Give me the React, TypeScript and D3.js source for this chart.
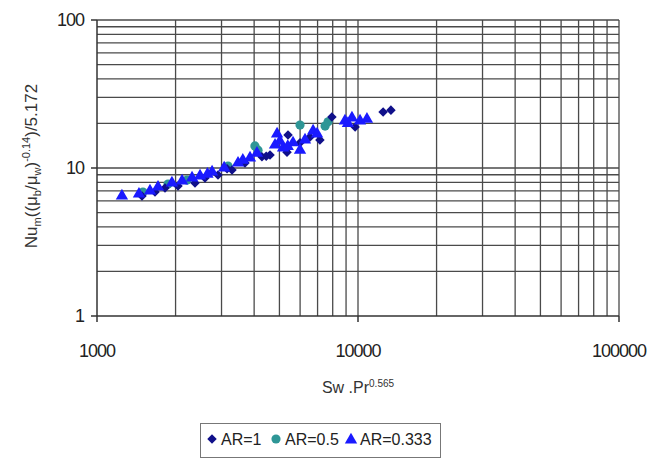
import React from 'react';
import * as d3 from 'd3';

// AR=1 (navy diamonds)
const ar1X = [1487, 1668, 1822, 2043, 2374, 2593, 2908, 3290, 3690, 4285, 4602, 5346, 5394, 5996, 7146, 7943, 9750, 12480, 13370, 3150, 4450, 6550];
const ar1Y = [6.47, 6.88, 7.32, 7.56, 7.92, 8.56, 8.97, 9.69, 10.8, 11.9, 12.24, 12.8, 16.7, 14.8, 15.46, 22.1, 18.9, 23.9, 24.6, 9.9, 12.0, 16.2];

// AR=0.5 (teal circles)
const ar05X = [1500, 1871, 2213, 3177, 4027, 4140, 5996, 7480, 7680];
const ar05Y = [6.88, 7.8, 8.29, 10.3, 14.1, 13.2, 19.5, 19.2, 20.5];

// AR=0.333 (blue triangles)
const ar033X = [1246, 1448, 1596, 1713, 1937, 2118, 2313, 2482, 2760, 3070, 3470, 3857, 4100, 4897, 4810, 5164, 5637, 5996, 6266, 6730, 6970, 8912, 9480, 10180, 10820, 2650, 3620, 5020, 5380, 9150];
const ar033Y = [6.47, 6.67, 7.0, 7.44, 7.92, 8.17, 8.56, 8.83, 9.4, 10.0, 10.8, 11.7, 12.6, 17.0, 14.3, 13.65, 14.8, 13.2, 15.46, 17.8, 17.0, 20.8, 21.8, 20.8, 21.4, 9.1, 11.3, 15.2, 14.0, 20.0];

const xTicks = [1000, 10000, 100000];
const yTicks = [1, 10, 100];

const width = 666;
const height = 460;
const font = 'Liberation Sans, Arial, sans-serif';

function minorValues(lo: number, hi: number) {
  const out: number[] = [];
  for (let p = lo; p < hi; p *= 10) {
    for (let m = 2; m <= 9; m += 1) out.push(p * m);
  }
  return out;
}

export default function App() {
  const x = d3.scaleLog().domain([1000, 100000]).range([97, 619]);
  const y = d3.scaleLog().domain([1, 100]).range([316, 20]);
  const [x0, x1] = x.range();
  const [y0, y1] = y.range();

  const diamond = d3.symbol().type(d3.symbolDiamond2).size(58)() ?? '';
  const circle = d3.symbol().type(d3.symbolCircle).size(66)() ?? '';
  const triangle = d3.symbol().type(d3.symbolTriangle).size(66)() ?? '';

  const gridColor = '#4a4a4a';

  return (
    <div style={{ position: 'absolute', left: 0, top: 0 }}>
      <svg width={width} height={height} style={{ display: 'block', background: '#fff' }}>
        {/* grid */}
        {minorValues(1000, 100000).concat([10000]).map((v, i) => (
          <line key={`vx${i}`} x1={x(v)} x2={x(v)} y1={y1} y2={y0} stroke={gridColor} strokeWidth={1.3} />
        ))}
        {minorValues(1, 100).concat([10]).map((v, i) => (
          <line key={`hy${i}`} x1={x0} x2={x1} y1={y(v)} y2={y(v)} stroke={gridColor} strokeWidth={1.3} />
        ))}
        <line x1={x0} x2={x1} y1={y1} y2={y1} stroke={gridColor} strokeWidth={1.3} />
        <line x1={x1} x2={x1} y1={y1} y2={y0} stroke={gridColor} strokeWidth={1.3} />

        {/* axes */}
        <line x1={x0} x2={x1} y1={y0} y2={y0} stroke="#333" strokeWidth={1.5} />
        <line x1={x0} x2={x0} y1={y1} y2={y0} stroke="#333" strokeWidth={1.5} />
        {xTicks.map((t) => (
          <g key={`xt${t}`}>
            <line x1={x(t)} x2={x(t)} y1={y0} y2={y0 + 6} stroke="#333" strokeWidth={1.5} />
            <text x={x(t)} y={y0 + 41} textAnchor="middle" fontFamily={font} fontSize={18} fill="#222" letterSpacing={-1}>
              {t}
            </text>
          </g>
        ))}
        {yTicks.map((t) => (
          <g key={`yt${t}`}>
            <line x1={x0 - 6} x2={x0} y1={y(t)} y2={y(t)} stroke="#333" strokeWidth={1.5} />
            <text x={x0 - 13} y={y(t) + 6} textAnchor="end" fontFamily={font} fontSize={18} fill="#222" letterSpacing={-1}>
              {t}
            </text>
          </g>
        ))}

        {/* axis titles */}
        <text x={358} y={393} textAnchor="middle" fontFamily={font} fontSize={16} fill="#333">
          Sw .Pr<tspan dy={-6} fontSize={10}>0.565</tspan>
        </text>
        <text transform="translate(37,166) rotate(-90)" textAnchor="middle" fontFamily={font} fontSize={17} fill="#333">
          Nu<tspan dy={4} fontSize={11}>m</tspan>
          <tspan dy={-4}>((μ</tspan>
          <tspan dy={4} fontSize={11}>b</tspan>
          <tspan dy={-4}>/μ</tspan>
          <tspan dy={4} fontSize={11}>w</tspan>
          <tspan dy={-4}>)</tspan>
          <tspan dy={-7} fontSize={11}>-0.14</tspan>
          <tspan dy={7}>)/5.172</tspan>
        </text>

        {/* data */}
        {ar05X.map((v, i) => (
          <path key={`c${i}`} d={circle} transform={`translate(${x(v)},${y(ar05Y[i])})`} fill="#2e9696" />
        ))}
        {ar1X.map((v, i) => (
          <path key={`d${i}`} d={diamond} transform={`translate(${x(v)},${y(ar1Y[i])})`} fill="#10108a" />
        ))}
        {ar033X.map((v, i) => (
          <path key={`t${i}`} d={triangle} transform={`translate(${x(v)},${y(ar033Y[i])})`} fill="#1a1aff" />
        ))}

        {/* legend */}
        <rect x={200.5} y={423.5} width={240} height={34} fill="#fff" stroke="#777" strokeWidth={1} />
        <path d={diamond} transform="translate(212,439)" fill="#10108a" />
        <text x={221} y={445} fontFamily={font} fontSize={16} fill="#222">AR=1</text>
        <path d={circle} transform="translate(276,439)" fill="#2e9696" />
        <text x={285} y={445} fontFamily={font} fontSize={16} fill="#222">AR=0.5</text>
        <path d={triangle} transform="translate(351,440)" fill="#1a1aff" />
        <text x={360} y={445} fontFamily={font} fontSize={16} fill="#222">AR=0.333</text>
      </svg>
    </div>
  );
}
